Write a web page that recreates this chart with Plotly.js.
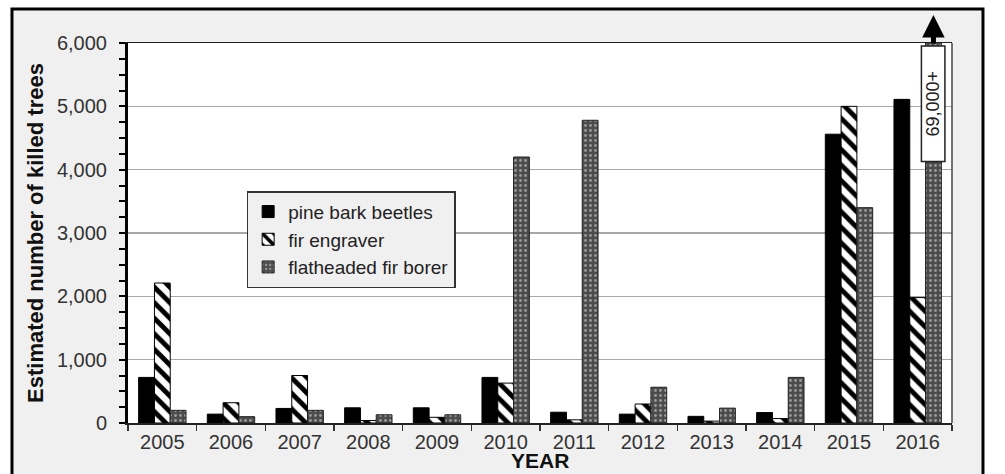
<!DOCTYPE html>
<html>
<head>
<meta charset="utf-8">
<script src="https://cdn.plot.ly/plotly-3.0.1.min.js"></script>
<style>html,body{margin:0;padding:0;background:#fff;}#chart{width:1005px;height:474px;}</style>
</head>
<body>
<div id="chart"></div>
<script>
// ---- data ----
const years = ['2005','2006','2007','2008','2009','2010','2011','2012','2013','2014','2015','2016'];
const pineBarkBeetles = [720, 140, 230, 240, 240, 720, 170, 140, 105, 165, 4560, 5110];
const firEngraver     = [2210, 320, 750, 40, 90, 630, 50, 300, 30, 70, 5000, 1980];
const flatheadedFirBorer = [200, 100, 200, 130, 130, 4200, 4780, 565, 235, 720, 3400, 69000];
const seriesNames = ['pine bark beetles', 'fir engraver', 'flatheaded fir borer'];
const yTickVals = [0, 1000, 2000, 3000, 4000, 5000, 6000];
const overflowLabel = '69,000+';
const xTitle = 'YEAR';
const yTitle = 'Estimated number of killed trees';

const FONT = '"Liberation Sans", Arial, sans-serif';
const bargap = 0.31;

const traces = [
  {
    type: 'bar', name: seriesNames[0], x: years, y: pineBarkBeetles, legendgroup: 'a',
    marker: {color: '#000', line: {color: '#000', width: 1}}
  },
  {
    type: 'bar', name: seriesNames[1], x: years, y: firEngraver, legendgroup: 'b',
    marker: {color: '#fff', line: {color: '#000', width: 1},
      pattern: {shape: '\\', fgcolor: '#000', bgcolor: '#fff', size: 11, solidity: 0.45}}
  },
  {
    type: 'bar', name: seriesNames[2], x: years, y: flatheadedFirBorer, legendgroup: 'c',
    marker: {color: '#4c4c4c', line: {color: '#222', width: 1},
      pattern: {shape: '.', fgcolor: '#9a9a9a', bgcolor: '#4c4c4c', size: 5, solidity: 0.25}}
  }
];

const dotOffset = (1 - bargap) / 3;
const lastIdx = years.length - 1;

const layout = {
  width: 1005, height: 474,
  margin: {l: 128, r: 53, t: 43, b: 51, pad: 0},
  paper_bgcolor: '#ffffff',
  plot_bgcolor: 'rgba(0,0,0,0)',
  barmode: 'group',
  bargap: bargap,
  bargroupgap: 0,
  font: {family: FONT, color: '#333', size: 20},
  showlegend: true,
  legend: {
    x: 0.144, y: 0.61, xanchor: 'left', yanchor: 'top',
    bgcolor: '#f0f0f0', bordercolor: '#333', borderwidth: 1.5,
    font: {family: FONT, size: 19, color: '#222'},
    tracegroupgap: 2, itemwidth: 30, traceorder: 'normal'
  },
  xaxis: {
    type: 'category',
    showline: true, linecolor: '#222', linewidth: 1.5, mirror: true,
    ticks: 'outside', tickson: 'boundaries', ticklen: 6, tickcolor: '#333', tickwidth: 1.5,
    tickfont: {family: FONT, size: 20, color: '#333'},
    showgrid: false,
    automargin: false
  },
  yaxis: {
    range: [0, 6000],
    tickvals: yTickVals, tickformat: ',d',
    showline: true, linecolor: '#000', linewidth: 3,
    ticks: 'outside', ticklen: 6, tickwidth: 2, tickcolor: '#000',
    minor: {dtick: 250, ticks: 'outside', ticklen: 6, tickwidth: 2, tickcolor: '#000', showgrid: false},
    showgrid: true, gridcolor: '#a8a8a8', gridwidth: 1.5,
    zeroline: false,
    tickfont: {family: FONT, size: 20, color: '#333'},
    ticklabelstandoff: 8,
    title: {text: yTitle, font: {family: FONT, size: 22, color: '#111', weight: 'bold'}, standoff: 8},
    automargin: false
  },
  yaxis2: {
    overlaying: 'y', anchor: 'x', side: 'left',
    range: [0, 6000], tickvals: yTickVals, showticklabels: false,
    ticks: 'inside', ticklen: 6, tickwidth: 2, tickcolor: '#000',
    minor: {dtick: 250, ticks: 'inside', ticklen: 6, tickwidth: 2, tickcolor: '#000', showgrid: false},
    showgrid: false, zeroline: false, showline: false
  },
  shapes: [
    {type: 'rect', xref: 'paper', yref: 'paper', x0: -0.1408, x1: 1.0376, y0: -0.25, y1: 1.0895,
     fillcolor: '#f0f0f0', line: {color: '#000', width: 3}, layer: 'below'},
    {type: 'rect', xref: 'paper', yref: 'paper', x0: 0, x1: 1, y0: 0, y1: 1,
     fillcolor: '#ffffff', line: {width: 0}, layer: 'below'},
    {type: 'line', xref: 'paper', yref: 'paper', x0: 1, x1: 1, y0: 0, y1: 1,
     line: {color: '#444', width: 1.5}}
  ],
  annotations: [
    {
      x: 0.5, y: -0.132, xref: 'paper', yref: 'paper', xanchor: 'center', yanchor: 'bottom',
      text: xTitle, showarrow: false, borderpad: 0,
      font: {family: FONT, size: 21, color: '#111', weight: 'bold'}
    },
    {
      x: lastIdx + dotOffset, y: 5040, xref: 'x', yref: 'y',
      text: overflowLabel, textangle: -90, showarrow: false,
      font: {family: FONT, size: 18, color: '#222'},
      bgcolor: '#ffffff', bordercolor: '#222', borderwidth: 1.5, borderpad: 1,
      width: 112, height: 20
    },
    {
      x: lastIdx + dotOffset, y: 1.074, xref: 'x', yref: 'paper',
      text: '', showarrow: true, arrowhead: 2, arrowsize: 0.9, arrowwidth: 5,
      arrowcolor: '#000', ax: 0, ay: 30
    }
  ]
};

Plotly.newPlot('chart', traces, layout, {displayModeBar: false, staticPlot: true});
</script>
</body>
</html>
